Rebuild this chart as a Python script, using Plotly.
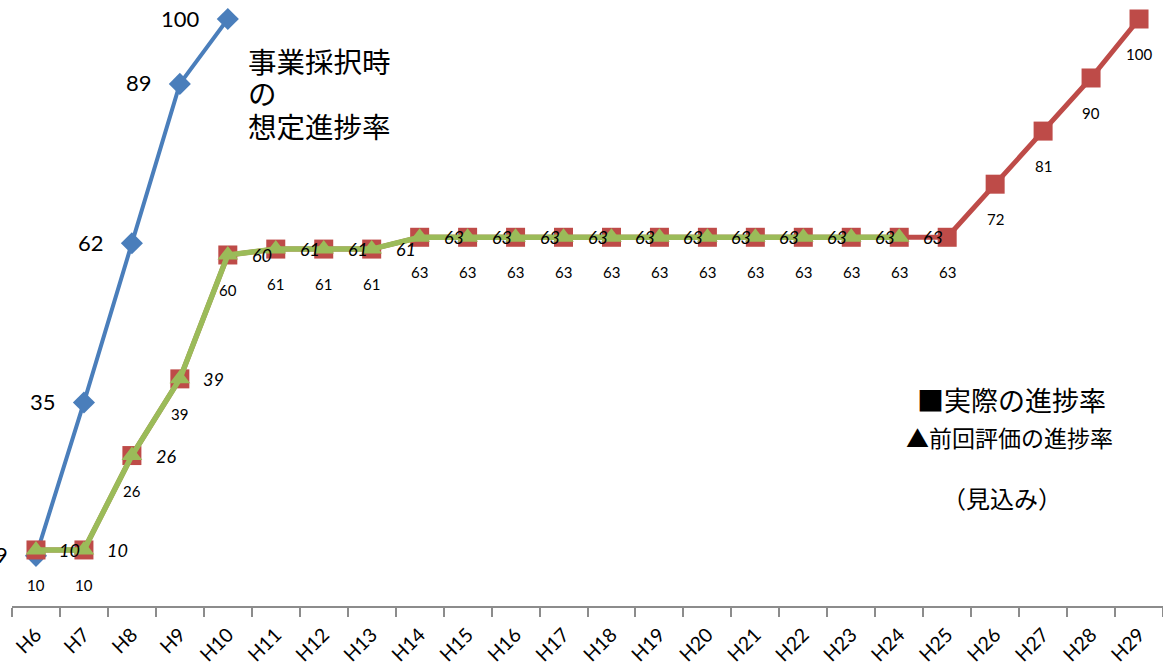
import plotly.graph_objects as go

categories = ["H6", "H7", "H8", "H9", "H10", "H11", "H12", "H13", "H14", "H15", "H16", "H17",
              "H18", "H19", "H20", "H21", "H22", "H23", "H24", "H25", "H26", "H27", "H28", "H29"]

planned_cats = ["H6", "H7", "H8", "H9", "H10"]
planned_vals = [9, 35, 62, 89, 100]

actual_vals = [10, 10, 26, 39, 60, 61, 61, 61, 63, 63, 63, 63, 63, 63, 63, 63, 63, 63, 63, 63,
               72, 81, 90, 100]

previous_cats = categories[:19]
previous_vals = [10, 10, 26, 39, 60, 61, 61, 61, 63, 63, 63, 63, 63, 63, 63, 63, 63, 63, 63]

title_lines = ["事業採択時", "の", "想定進捗率"]

BLUE = "#4A7EBB"
RED = "#BE4B48"
GREEN = "#9BBB59"
NUM_FONT = "Lato, 'Noto Sans', sans-serif"
JP_FONT = "'Noto Sans CJK JP', sans-serif"

W, H = 1163, 664
ML, MR, MT, MB = 12, 0, 19, 58

fig = go.Figure()

fig.add_trace(go.Scatter(
    x=planned_cats, y=planned_vals, mode="lines+markers",
    line=dict(color=BLUE, width=4),
    marker=dict(symbol="diamond", size=17, color=BLUE),
    cliponaxis=False, showlegend=False, hoverinfo="skip"))

fig.add_trace(go.Scatter(
    x=categories, y=actual_vals, mode="lines+markers",
    line=dict(color=RED, width=5),
    marker=dict(symbol="square", size=19, color=RED),
    cliponaxis=False, showlegend=False, hoverinfo="skip"))

fig.add_trace(go.Scatter(
    x=previous_cats, y=previous_vals, mode="lines+markers",
    line=dict(color=GREEN, width=5.5),
    marker=dict(symbol="triangle-up", size=18, color=GREEN),
    cliponaxis=False, showlegend=False, hoverinfo="skip"))

annotations = []
for c, v in zip(planned_cats, planned_vals):
    annotations.append(dict(x=c, y=v, xref="x", yref="y", text=str(v), showarrow=False,
                            xanchor="right", yanchor="middle", xshift=-26, yshift=1,
                            font=dict(family=NUM_FONT, size=22, color="#000000")))
for c, v in zip(categories, actual_vals):
    annotations.append(dict(x=c, y=v, xref="x", yref="y", text=str(v), showarrow=False,
                            xanchor="center", yanchor="middle", yshift=-35,
                            font=dict(family=NUM_FONT, size=15, color="#000000")))
for c, v in zip(previous_cats, previous_vals):
    annotations.append(dict(x=c, y=v, xref="x", yref="y", text="<i>%d</i>" % v, showarrow=False,
                            xanchor="center", yanchor="middle", xshift=34, yshift=0,
                            font=dict(family=NUM_FONT, size=18, color="#000000")))

def px_x(px):
    return (px - ML) / (W - ML - MR)

def px_y(py):
    return (H - MB - py) / (H - MB - MT)

for i, line in enumerate(title_lines):
    annotations.append(dict(x=px_x(246), y=px_y(60 + 32.5 * i), xref="paper", yref="paper",
                            text=line, showarrow=False,
                            xanchor="left", yanchor="middle", align="left",
                            font=dict(family=JP_FONT, size=28.5, color="#000000")))
annotations.append(dict(x=px_x(1011), y=px_y(400), xref="paper", yref="paper",
                        text="■実際の進捗率", showarrow=False,
                        xanchor="center", yanchor="middle",
                        font=dict(family=JP_FONT, size=27, color="#000000")))
annotations.append(dict(x=px_x(1009), y=px_y(437), xref="paper", yref="paper",
                        text="▲前回評価の進捗率", showarrow=False,
                        xanchor="center", yanchor="middle",
                        font=dict(family=JP_FONT, size=23, color="#000000")))
annotations.append(dict(x=px_x(1002), y=px_y(497), xref="paper", yref="paper",
                        text="（見込み）", showarrow=False,
                        xanchor="center", yanchor="middle",
                        font=dict(family=JP_FONT, size=24, color="#000000")))

fig.update_layout(
    width=W, height=H,
    margin=dict(l=ML, r=MR, t=MT, b=MB, autoexpand=False),
    paper_bgcolor="#FFFFFF", plot_bgcolor="#FFFFFF",
    annotations=annotations,
    xaxis=dict(type="category", categoryorder="array", categoryarray=categories,
               range=[-0.5, 23.5], showgrid=False, zeroline=False,
               showline=True, linecolor="#8C8C8C", linewidth=1.5,
               ticks="outside", ticklen=9, tickcolor="#8C8C8C", tickwidth=1.5,
               tickson="boundaries", tickangle=-45, automargin=False,
               ticklabelstandoff=8,
               tickfont=dict(family=NUM_FONT, size=19.5, color="#000000")),
    yaxis=dict(range=[0.5, 100], visible=False, showgrid=False, zeroline=False),
)

fig.write_html("out.html", config={"displayModeBar": False},
               post_script="document.body.style.margin='0';document.body.style.overflow='hidden';")
